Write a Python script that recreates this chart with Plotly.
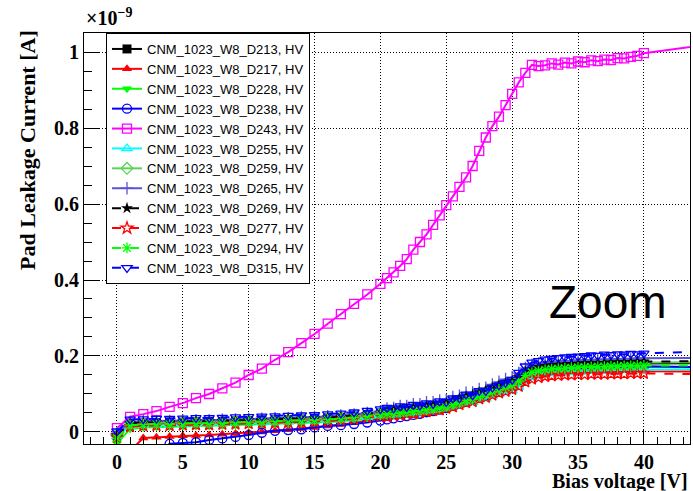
import plotly.graph_objects as go

# Bias voltage steps [V] (last point lies beyond the zoomed view)
VOLTAGE = [0, 1, 2, 3, 4, 5, 6, 7, 8, 9, 10, 11, 12, 13, 14, 15, 16, 17, 18, 19, 20,
           20.5, 21, 21.5, 22, 22.5, 23, 23.5, 24, 24.5, 25, 25.5, 26, 26.5, 27, 27.5, 28, 28.5, 29, 29.5, 30,
           30.5, 31, 31.5, 32, 32.5, 33, 33.5, 34, 34.5, 35, 35.5, 36, 36.5, 37, 37.5, 38, 38.5, 39, 39.5, 40,
           45]

# Pad leakage currents in pA (1e-12 A)
D213 = [-10, 22, 24, 25, 26, 26, 27, 28, 28, 29, 30, 31, 32, 33, 34, 35, 37, 39, 42, 46, 50,
        52, 53, 57, 57, 61, 61, 66, 66, 71, 72, 80, 83, 91, 92, 102, 104, 114, 118, 126, 129,
        142, 154, 164, 166, 171, 171, 174, 173, 176, 175, 178, 176, 179, 177, 180, 178, 181, 179, 182, 180,
        181]
D217 = [-90, -50, -16, -14, -12, -10, -9, -8, -6, -4, -2, 0, 3, 6, 9, 12, 16, 20, 24, 30, 36,
        38, 41, 42, 45, 46, 49, 51, 54, 56, 60, 65, 70, 76, 79, 87, 91, 99, 105, 111, 115,
        124, 137, 145, 149, 152, 154, 155, 156, 157, 158, 158, 159, 159, 160, 160, 160, 161, 161, 161, 160,
        159]
D228 = [-30, 8, 12, 13, 14, 15, 16, 16, 17, 18, 19, 20, 21, 22, 23, 24, 26, 28, 31, 35, 39,
        42, 44, 46, 48, 50, 52, 55, 57, 60, 63, 69, 74, 80, 83, 91, 95, 103, 109, 114, 119,
        130, 145, 153, 157, 160, 162, 163, 164, 165, 166, 167, 167, 168, 168, 169, 169, 170, 170, 171, 171,
        171]
D238 = [-300, -200, -120, -60, -31, -29, -27, -21, -17, -13, -8, -2, 3, 5, 7, 12, 16, 18, 21, 25, 30,
        33, 36, 39, 42, 45, 48, 52, 55, 59, 63, 70, 75, 82, 85, 93, 97, 105, 111, 117, 122,
        133, 147, 155, 159, 162, 164, 165, 166, 167, 168, 169, 169, 170, 170, 171, 171, 172, 172, 173, 173,
        170]
D243 = [10, 40, 47, 55, 66, 76, 89, 100, 115, 130, 150, 167, 190, 210, 234, 258, 285, 310, 337, 362, 390,
        405, 420, 437, 455, 480, 500, 520, 545, 570, 597, 620, 645, 670, 700, 740, 775, 805, 830, 860, 890,
        920, 945, 966, 963, 965, 970, 967, 972, 970, 975, 973, 978, 976, 980, 979, 984, 983, 987, 990, 997,
        1020]
D255 = [-12, 16, 18, 19, 19, 20, 21, 21, 22, 23, 24, 25, 26, 27, 28, 29, 31, 33, 36, 39, 43,
        44, 45, 48, 49, 52, 53, 56, 57, 60, 62, 67, 71, 76, 78, 85, 88, 95, 100, 105, 109,
        119, 134, 144, 149, 152, 154, 155, 157, 157, 159, 159, 160, 160, 161, 161, 162, 162, 163, 163, 164,
        166]
D259 = [-6, 20, 22, 23, 23, 24, 25, 25, 26, 27, 28, 29, 30, 31, 32, 33, 35, 37, 40, 44, 48,
        53, 55, 58, 59, 62, 63, 67, 68, 72, 74, 81, 85, 92, 94, 103, 106, 115, 121, 127, 132,
        143, 157, 165, 169, 172, 174, 175, 176, 177, 178, 179, 179, 180, 180, 181, 181, 182, 182, 183, 183,
        184]
D265 = [-4, 26, 28, 29, 29, 30, 31, 31, 32, 33, 34, 35, 36, 37, 38, 39, 41, 43, 46, 50, 54,
        62, 63, 68, 68, 73, 73, 78, 78, 83, 84, 92, 95, 103, 104, 113, 116, 125, 132, 139, 144,
        155, 168, 176, 180, 183, 185, 186, 187, 188, 189, 190, 190, 191, 191, 192, 192, 193, 193, 194, 194,
        195]
D269 = [-9, 23, 25, 26, 26, 27, 28, 28, 29, 30, 31, 32, 33, 34, 35, 36, 38, 40, 43, 47, 51,
        55, 58, 59, 62, 63, 66, 68, 71, 73, 77, 82, 88, 93, 97, 104, 109, 116, 123, 128, 134,
        144, 159, 166, 171, 174, 176, 177, 178, 179, 180, 181, 181, 182, 182, 183, 183, 184, 184, 185, 185,
        187]
D277 = [-14, 14, 16, 17, 17, 18, 19, 19, 20, 21, 22, 23, 24, 25, 26, 27, 29, 31, 34, 38, 42,
        40, 43, 44, 47, 48, 51, 53, 56, 58, 62, 66, 72, 77, 80, 87, 91, 97, 103, 107, 112,
        120, 132, 139, 143, 146, 148, 149, 150, 150, 151, 151, 152, 152, 152, 153, 153, 153, 154, 154, 154,
        152]
D294 = [-16, 18, 20, 21, 21, 22, 23, 23, 24, 25, 26, 27, 28, 29, 30, 31, 33, 35, 38, 42, 46,
        47, 49, 50, 52, 54, 56, 58, 60, 63, 66, 72, 77, 83, 86, 94, 98, 106, 112, 118, 123,
        134, 149, 157, 161, 164, 166, 167, 168, 169, 170, 171, 171, 172, 172, 173, 173, 174, 174, 175, 175,
        175]
D315 = [2, 33, 34, 35, 35, 36, 37, 37, 38, 39, 40, 41, 42, 43, 44, 45, 47, 49, 52, 56, 60,
        64, 62, 68, 66, 72, 70, 76, 74, 81, 79, 89, 89, 99, 97, 108, 108, 117, 123, 130, 137,
        156, 173, 183, 187, 191, 193, 195, 197, 198, 199, 200, 202, 201, 204, 203, 205, 204, 206, 205, 207,
        212]

SERIES = [D213, D217, D228, D238, D243, D255, D259, D265, D269, D277, D294, D315]
NAMES = ["CNM_1023_W8_D213, HV", "CNM_1023_W8_D217, HV", "CNM_1023_W8_D228, HV",
         "CNM_1023_W8_D238, HV", "CNM_1023_W8_D243, HV", "CNM_1023_W8_D255, HV",
         "CNM_1023_W8_D259, HV", "CNM_1023_W8_D265, HV", "CNM_1023_W8_D269, HV",
         "CNM_1023_W8_D277, HV", "CNM_1023_W8_D294, HV", "CNM_1023_W8_D315, HV"]
COLORS = ["#000000", "#ff0000", "#00ff00", "#0000ff", "#ff00ff", "#00ffff",
          "#59d454", "#5954d9", "#000000", "#ff0000", "#00ff00", "#0000ff"]
SYMBOLS = ["square", "triangle-up", "triangle-down", "circle-open", "square-open",
           "triangle-up-open", "diamond-open", "cross-thin-open", "star", "star-open",
           "asterisk-open", "triangle-down-open"]
DASHES = ["solid"] * 8 + ["dash"] * 4

fig = go.Figure()
for vals, name, col, sym, dash in zip(SERIES, NAMES, COLORS, SYMBOLS, DASHES):
    fig.add_trace(go.Scatter(
        x=VOLTAGE, y=[v / 1000.0 for v in vals], name=name, mode="lines+markers",
        line=dict(color=col, width=2, dash=dash),
        marker=dict(symbol=sym, size=9, color=col,
                    line=dict(color=col, width=1.3 if "open" in sym else 0)),
    ))

serif = "Liberation Serif"
fig.update_layout(
    width=693, height=491,
    margin=dict(l=84, r=3, t=33, b=47),
    paper_bgcolor="white", plot_bgcolor="white",
    showlegend=True,
    legend=dict(x=(106 - 84) / 606, y=1.0, xanchor="left", yanchor="top",
                bgcolor="white", bordercolor="black", borderwidth=1,
                font=dict(family="Liberation Sans", size=13, color="black"),
                tracegroupgap=0),
    xaxis=dict(range=[-2.5, 43.5], tick0=0, dtick=5, ticks="inside", ticklen=14,
               tickwidth=1, tickcolor="black", showline=True, linecolor="black",
               linewidth=1, mirror=True, showgrid=True, gridcolor="black",
               griddash="1px,2px", gridwidth=1, zeroline=False,
               ticklabelstandoff=0,
               minor=dict(dtick=1, ticks="inside", ticklen=7, tickcolor="black",
                          showgrid=False),
               tickfont=dict(family=serif, size=20, color="black", weight="bold")),
    yaxis=dict(range=[-0.0316, 1.05], tick0=0, dtick=0.2, ticks="inside", ticklen=16,
               tickwidth=1, tickcolor="black", showline=True, linecolor="black",
               linewidth=1, mirror=True, showgrid=True, gridcolor="black",
               griddash="1px,2px", gridwidth=1, zeroline=False,
               minor=dict(dtick=0.05, ticks="inside", ticklen=8, tickcolor="black",
                          showgrid=False),
               tickfont=dict(family=serif, size=20, color="black", weight="bold")),
    annotations=[
        dict(text="Pad Leakage Current [A]", xref="paper", yref="paper",
             x=(28 - 84) / 606, y=(444 - 28) / 411, xanchor="center", yanchor="top",
             textangle=-90, showarrow=False,
             font=dict(family=serif, size=22, color="black", weight="bold")),
        dict(text="Bias voltage [V]", xref="paper", yref="paper",
             x=1.0, y=(444 - 481) / 411, xanchor="right", yanchor="middle",
             showarrow=False,
             font=dict(family=serif, size=20, color="black", weight="bold")),
        dict(text="×10<sup>−9</sup>", xref="paper", yref="paper",
             x=0.0, y=(444 - 31) / 411, xanchor="left", yanchor="bottom",
             showarrow=False,
             font=dict(family=serif, size=20, color="black", weight="bold")),
        dict(text="Zoom", xref="paper", yref="paper",
             x=(608 - 84) / 606, y=(444 - 302) / 411, xanchor="center", yanchor="middle",
             showarrow=False,
             font=dict(family="Liberation Sans", size=46, color="black")),
    ],
)

fig.write_html("out.html")
